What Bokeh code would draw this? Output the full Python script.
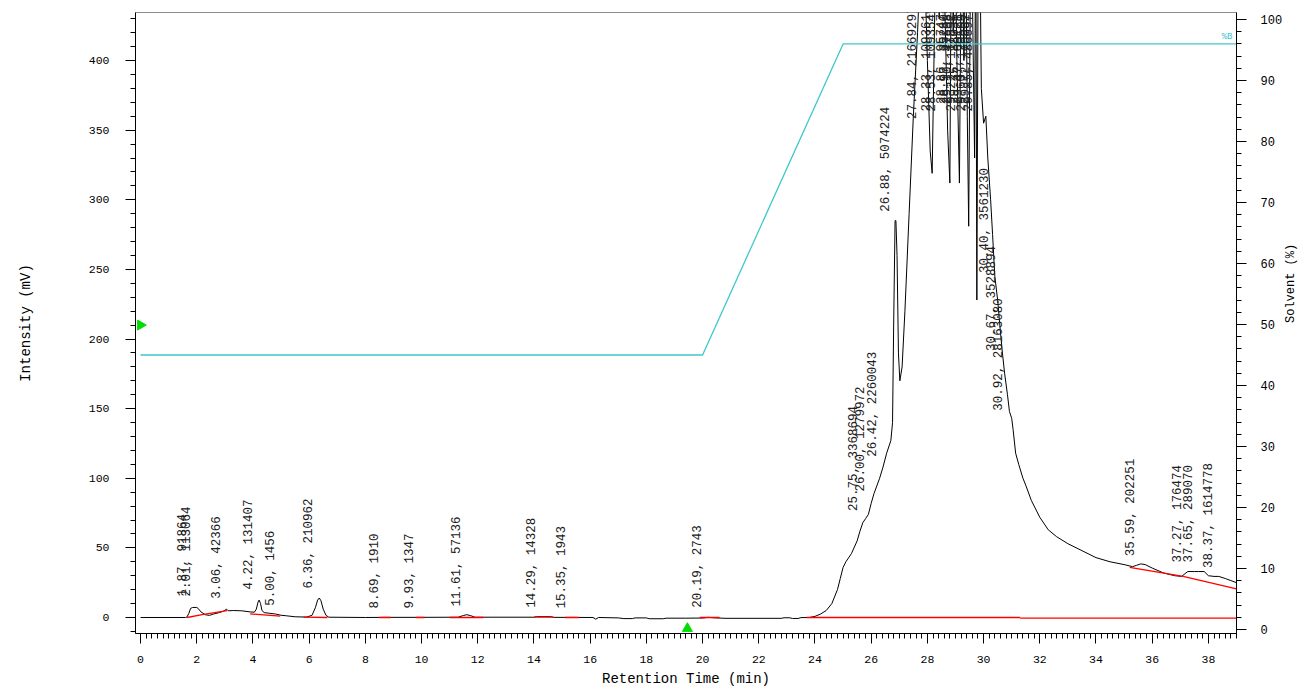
import math
from bokeh.plotting import figure
from bokeh.models import (Range1d, LinearAxis, Label, SingleIntervalTicker, ColumnDataSource)
from bokeh.core.properties import value
from bokeh.embed import file_html
from bokeh.resources import INLINE

# ---------------- data ----------------
time_min = [0.0, 1.6, 1.65, 1.72, 1.78, 1.85, 2.0, 2.05, 2.15, 2.3, 2.45, 2.6, 2.8, 2.95,
            3.06, 3.12, 3.3, 3.6, 3.9, 4.05, 4.12, 4.18, 4.22, 4.27, 4.32, 4.4, 4.6, 4.8,
            5.0, 5.2, 5.5, 5.9, 6.1, 6.22, 6.3, 6.36, 6.42, 6.5, 6.6, 6.7, 8.0, 8.69, 9.93,
            11.3, 11.5, 11.61, 11.75, 11.9, 14.0, 14.1, 14.6, 14.7, 16.1, 16.2, 16.3, 17.0,
            17.2, 17.5, 17.6, 18.0, 18.1, 18.6, 18.7, 19.4, 20.0, 20.2, 20.4, 20.8, 22.8,
            22.9, 23.1, 23.2, 23.4, 23.5, 23.8, 24.0, 24.2, 24.4, 24.6, 24.8, 24.9, 25.0,
            25.1, 25.3, 25.5, 25.6, 25.7, 25.8, 25.9, 26.0, 26.1, 26.3, 26.42, 26.55, 26.7,
            26.76, 26.8, 26.85, 26.88, 26.92, 26.97, 27.02, 27.1, 27.2, 27.35, 27.5, 27.65,
            27.75, 27.84, 27.9, 28.0, 28.1, 28.17, 28.25, 28.33, 28.42, 28.47, 28.53, 28.62,
            28.72, 28.8, 28.86, 28.92, 28.97, 29.05, 29.14, 29.22, 29.3, 29.35, 29.42, 29.47,
            29.55, 29.62, 29.68, 29.72, 29.76, 29.8, 29.85, 29.92, 30.0, 30.08, 30.15, 30.25,
            30.32, 30.4, 30.5, 30.6, 30.67, 30.75, 30.85, 30.92, 31.0, 31.05, 31.14, 31.25,
            31.4, 31.5, 31.7, 32.0, 32.3, 32.6, 33.0, 33.5, 34.0, 34.5, 35.0, 35.3, 35.45,
            35.59, 35.75, 36.0, 36.4, 36.8, 37.05, 37.2, 37.27, 37.5, 37.65, 37.85, 38.0,
            38.2, 38.37, 38.6, 38.8, 39.0]
intensity_mv = [0.0, 0.0, 0.3, 3.0, 6.5, 7.2, 7.2, 6.5, 4.0, 2.0, 1.5, 2.5, 3.5, 4.5,
                6.0, 4.8, 5.0, 4.8, 4.0, 3.8, 6.0, 11.0, 12.5, 10.0, 5.0, 3.5, 3.0, 2.5,
                1.6, 1.2, 0.5, 0.3, 1.5, 7.0, 12.5, 14.0, 12.0, 6.0, 1.5, 0.2, 0.0, 0.1, 0.1,
                0.2, 1.5, 2.0, 1.3, 0.2, 0.2, 0.6, 0.6, 0.1, 0.0, -1.2, 0.0, -0.3,
                -0.8, -0.8, -0.3, -0.3, -0.9, -0.9, -0.5, -0.5, -0.4, 0.1, -0.2, -0.6, -0.6,
                -0.2, -0.2, -0.7, -0.7, -0.1, 0.0, 0.8, 2.5, 5.0, 10.0, 20.0, 28.0, 36.0,
                40.0, 46.0, 55.0, 62.0, 68.0, 71.0, 74.0, 82.0, 89.0, 100.0, 108.0, 118.0, 127.0,
                140.0, 210.0, 285.0, 285.0, 260.0, 190.0, 170.0, 180.0, 220.0, 290.0, 360.0, 420.0,
                470.0, 520.0, 470.0, 400.0, 335.0, 319.0, 420.0, 520.0, 430.0, 470.0, 540.0, 440.0,
                350.0, 312.0, 520.0, 420.0, 520.0, 400.0, 312.0, 520.0, 400.0, 520.0, 360.0, 281.0,
                520.0, 420.0, 330.0, 520.0, 228.0, 440.0, 520.0, 380.0, 355.0, 360.0, 330.0, 300.0,
                275.0, 245.0, 228.0, 205.0, 190.0, 175.0, 160.0, 148.0, 143.0, 135.0, 118.0, 110.0,
                100.0, 95.0, 84.0, 72.0, 63.0, 58.0, 53.0, 48.0, 43.0, 40.0, 38.0, 36.5, 37.5,
                38.5, 38.0, 35.5, 32.0, 30.0, 29.5, 32.0, 33.0, 33.0, 33.0, 33.0, 30.0,
                29.5, 29.5, 28.0, 26.5, 25.0]

solvent_time = [0, 20, 25, 39]
solvent_pct = [45, 45, 96, 96]

peak_times = [1.87, 2.01, 3.06, 4.22, 5.00, 6.36, 8.69, 9.93, 11.61, 14.29, 15.35, 20.19,
              25.75, 26.00, 26.42, 26.88, 27.84, 28.33, 28.53, 28.86, 28.97, 29.10, 29.22,
              29.35, 29.47, 29.60, 29.72, 29.85, 30.40, 30.67, 30.92, 35.59, 37.27, 37.65, 38.37]
peak_heights = [8.6, 8.6, 7.0, 13.6, 2.0, 14.4, 0.0, 0.0, 1.5, 0.5, 0.0, 0.5,
                70.0, 84.0, 109.0, 285.0, 520.0, 520.0, 540.0, 520.0, 520.0, 520.0, 520.0,
                520.0, 520.0, 520.0, 520.0, 520.0, 241.0, 185.0, 142.0, 37.5, 33.0, 33.0, 29.0]
peak_areas = [91864, 113064, 42366, 131407, 1456, 210962, 1910, 1347, 57136, 14328, 1943, 2743,
              3368694, 1279972, 2260043, 5074224, 21669297, 1093614, 1093549, 957477, 652800,
              475085, 1178927, 880352, 691217, 1295992, 758827, 4860974, 3561230, 3528894,
              28163080, 202251, 176474, 289070, 1614778]

# integration baselines (start time, start mV, end time, end mV)
base_t0 = [1.66, 2.19, 3.90, 5.80, 8.50, 9.80, 11.00, 14.00, 15.10, 19.90, 20.30, 23.70, 31.30, 35.20, 37.10]
base_v0 = [0.0, 2.0, 2.6, 0.3, 0.0, 0.0, 0.0, 0.2, 0.0, 0.0, 0.0, 0.0, -0.5, 36.0, 29.5]
base_t1 = [2.19, 3.08, 4.97, 6.65, 8.90, 10.10, 12.20, 14.70, 15.60, 20.30, 20.60, 31.30, 39.00, 37.10, 39.00]
base_v1 = [2.0, 5.0, 1.0, 0.0, 0.0, 0.0, 0.0, 0.2, 0.0, 0.0, 0.0, 0.0, -0.5, 29.5, 20.5]

marker_time = 19.46      # injection marker on the time axis
marker_level = 210.0     # level marker on the intensity axis

x_label = "Retention Time (min)"
y_label = "Intensity (mV)"
y2_label = "Solvent (%)"

# ---------------- figure ----------------
W, H = 1308, 692
FL, FR, FT, FB = 135, 70, 12, 59
X0, X1 = -0.18, 39.0
Y0, Y1 = -11.5, 434.5
S0, S1 = -0.66, 101.15

MONO = "Liberation Mono"

p = figure(width=W, height=H, output_backend="svg", toolbar_location=None,
           x_range=Range1d(X0, X1), y_range=Range1d(Y0, Y1),
           min_border_left=FL, min_border_right=FR, min_border_top=FT, min_border_bottom=FB,
           x_axis_label=x_label, y_axis_label=y_label)
p.extra_y_ranges = {"solv": Range1d(S0, S1)}
p.grid.visible = False
p.background_fill_color = "white"
p.border_fill_color = "white"
p.outline_line_color = "#8c8c8c"
p.outline_line_width = 1

def style_axis(ax, interval, minor):
    ax.ticker = SingleIntervalTicker(interval=interval, num_minor_ticks=minor)
    ax.axis_line_color = "black"
    ax.major_tick_line_color = "black"
    ax.minor_tick_line_color = "black"
    ax.major_tick_out = 10
    ax.major_tick_in = 0
    ax.minor_tick_out = 5
    ax.minor_tick_in = 0
    ax.major_label_text_font = MONO
    ax.major_label_text_font_size = "11.5px"
    ax.major_label_text_color = "black"
    ax.axis_label_text_font = MONO
    ax.axis_label_text_font_size = "14px"
    ax.axis_label_text_font_style = "normal"
    ax.axis_label_text_color = "black"

xa = p.xaxis[0]
style_axis(xa, 2, 10)
xa.major_label_standoff = 12
xa.axis_label_standoff = 5

ya = p.yaxis[0]
style_axis(ya, 50, 5)
ya.major_label_standoff = 16
ya.axis_label_standoff = 52

ra = LinearAxis(y_range_name="solv", axis_label=y2_label)
style_axis(ra, 10, 5)
ra.major_label_standoff = 14
ra.major_label_text_font_size = "12px"
ra.axis_label_text_font_size = "12px"
ra.axis_label_standoff = 6
try:
    ra.axis_label_orientation = math.pi / 2
except Exception:
    pass
p.add_layout(ra, "right")

# chromatogram
p.line(time_min, intensity_mv, line_color="black", line_width=1)

# integration baselines
p.segment(x0=base_t0, y0=base_v0, x1=base_t1, y1=base_v1, line_color="#ff0000", line_width=1.3)

# solvent gradient
p.line(solvent_time, solvent_pct, y_range_name="solv", line_color="#3ec8cc", line_width=1.3)
p.add_layout(Label(x=solvent_time[-1], y=solvent_pct[-1], y_range_name="solv", text="%B",
                   text_color="#3ec8cc", text_font=MONO, text_font_size="9px",
                   text_align="right", text_baseline="bottom", x_offset=-4, y_offset=2))

# peak labels (rotated, clamped below the top of the frame)
px_per_mv = (H - FT - FB) / (Y1 - Y0)
px_per_min = (W - FL - FR) / (X1 - X0)
char_px = 7.5
lab_txt = [f"{t:.2f}, {a}" for t, a in zip(peak_times, peak_areas)]
lab_y = []
for h, s in zip(peak_heights, lab_txt):
    room = (len(s) * char_px + 3) / px_per_mv
    lab_y.append(min(h, Y1 - room))
src = ColumnDataSource(dict(x=peak_times, y=lab_y, t=lab_txt))
p.text(x="x", y="y", text="t", source=src, angle=math.pi / 2, text_align="left",
       text_baseline="bottom", x_offset=-3, y_offset=-9,
       text_font=value(MONO), text_font_size="12.5px", text_color="#202020")

# green markers at the axis edges
p.scatter(x=[X0 + 5 / px_per_min], y=[marker_level], marker="triangle", angle=-math.pi / 2,
          size=10, fill_color="#00dd00", line_color="#00dd00")
p.scatter(x=[marker_time], y=[Y0 + 5 / px_per_mv], marker="triangle",
          size=10, fill_color="#00dd00", line_color="#00dd00")

open("out.html", "w").write(file_html(p, INLINE))
